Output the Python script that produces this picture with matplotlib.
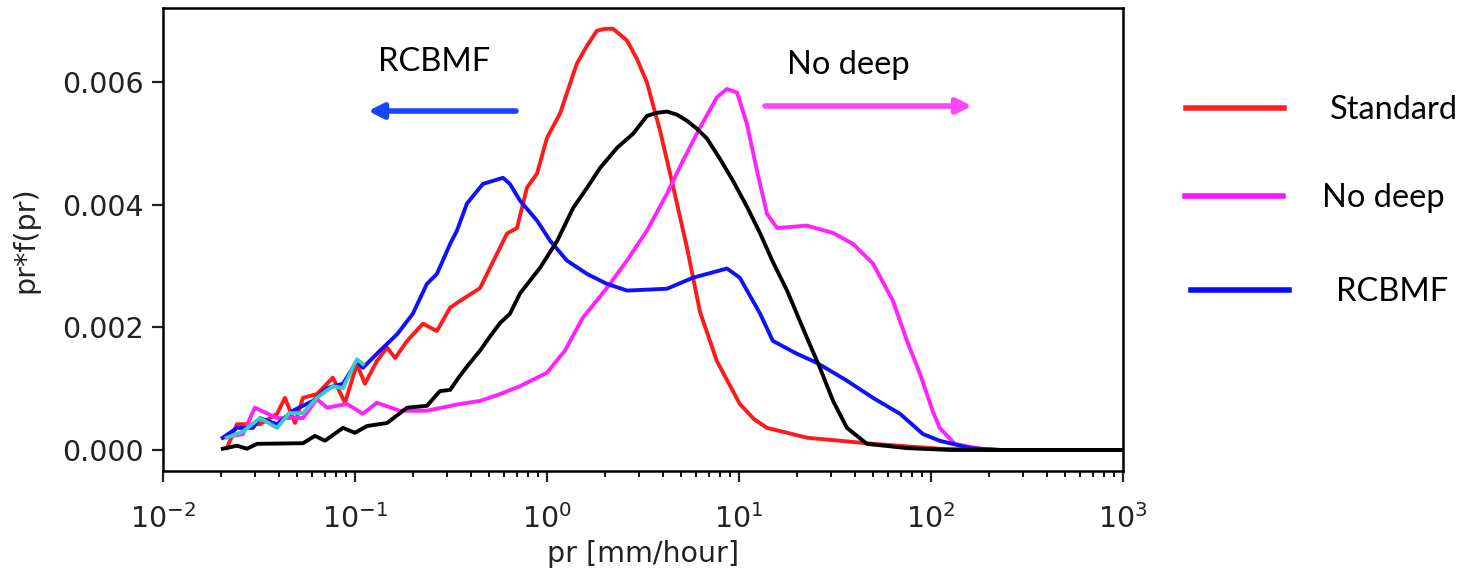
import numpy as np
import matplotlib.pyplot as plt

# data: pr [mm/hour] and pr*f(pr)
std_pr = [0.0215, 0.0243, 0.032, 0.0393, 0.0432, 0.0487, 0.0536, 0.0633, 0.0767, 0.0887,
          0.1024, 0.1127, 0.130, 0.147, 0.162, 0.187, 0.226, 0.267, 0.313, 0.352,
          0.448, 0.505, 0.619, 0.698, 0.787, 0.888, 1.0, 1.17, 1.43, 1.62, 1.82,
          2.0, 2.21, 2.61, 2.94, 3.32, 3.88, 4.53, 5.36, 6.27, 7.67, 10.1, 12.0, 14.0,
          17.8, 22.6, 49.9, 111, 229, 1000]
std_val = [0.00003, 0.00042, 0.00042, 0.00059, 0.00085, 0.00044, 0.00085, 0.00091, 0.00118, 0.00077,
           0.0014, 0.00108, 0.00145, 0.00167, 0.0015, 0.00178, 0.00206, 0.00194, 0.00232, 0.00243,
           0.00264, 0.00297, 0.00353, 0.00362, 0.00428, 0.00451, 0.00509, 0.00549, 0.0063, 0.0066, 0.00684,
           0.00687, 0.00687, 0.00668, 0.00638, 0.00599, 0.00521, 0.00431, 0.0033, 0.00225, 0.00145, 0.00075, 0.0005, 0.00036,
           0.00028, 0.0002, 0.0001, 0.00002, 0.0, 0.0]

nodeep_pr = [0.0205, 0.0261, 0.0301, 0.0393, 0.0536, 0.0633, 0.0715, 0.0908, 0.110, 0.130,
             0.171, 0.237, 0.352, 0.448, 0.569, 0.723, 1.0, 1.24, 1.54, 2.05,
             2.61, 3.32, 4.22, 5.11, 6.27, 7.67, 8.66, 9.77, 11.0, 12.4,
             14.0, 15.8, 22.6, 30.9, 39.3, 49.9, 63.4, 75, 87.7, 102,
             111, 133, 180, 229, 1000]
nodeep_val = [0.0002, 0.00026, 0.00069, 0.00052, 0.00052, 0.00083, 0.00069, 0.00075, 0.00059, 0.00077,
              0.00064, 0.00064, 0.00075, 0.0008, 0.00091, 0.00104, 0.00126, 0.00162, 0.00216, 0.00264,
              0.00309, 0.00358, 0.00418, 0.00472, 0.00526, 0.00575, 0.00589, 0.00583, 0.00532, 0.00456,
              0.00385, 0.00362, 0.00366, 0.00354, 0.00336, 0.00304, 0.00243, 0.00178, 0.00124, 0.00064,
              0.00036, 0.0001, 0.00002, 0.0, 0.0]

rcb_pr = [0.0205, 0.0243, 0.0294, 0.032, 0.0393, 0.0475, 0.0604, 0.0715, 0.0866, 0.1024,
          0.110, 0.135, 0.166, 0.2, 0.237, 0.267, 0.313, 0.34, 0.383, 0.464,
          0.59, 0.641, 0.723, 0.888, 1.04, 1.27, 1.62, 2.05, 2.61, 4.22,
          5.76, 8.66, 10.1, 12.9, 15.0, 20.0, 25.5, 36.5, 49.9, 69,
          90.8, 111, 160, 229, 1000]
rcb_val = [0.0002, 0.00036, 0.00036, 0.00052, 0.00042, 0.00064, 0.0008, 0.00101, 0.00108, 0.00145,
           0.00134, 0.00162, 0.00189, 0.00222, 0.00271, 0.00287, 0.00336, 0.00358, 0.00402, 0.00434,
           0.00444, 0.00434, 0.00407, 0.00374, 0.00341, 0.00309, 0.00287, 0.00271, 0.0026, 0.00263,
           0.00281, 0.00296, 0.00281, 0.00222, 0.00178, 0.00157, 0.00142, 0.00113, 0.00085, 0.00059,
           0.00026, 0.00015, 0.00003, 0.0, 0.0]

blk_pr = [0.0205, 0.0243, 0.0274, 0.0309, 0.0536, 0.0619, 0.0698, 0.0866, 0.1, 0.1155,
          0.147, 0.187, 0.237, 0.277, 0.313, 0.352, 0.397, 0.448, 0.505, 0.569, 0.641, 0.723, 0.815,
          0.92, 1.13, 1.37, 1.62, 1.89, 2.32, 2.81, 3.32, 3.74, 4.22, 4.75, 5.36, 6.04,
          6.81, 7.96, 9.31, 11.0, 12.9, 15.0, 17.8, 22.6, 26.4, 30.9, 36.5, 46.4, 75,
          126, 1000]
blk_val = [0.00002, 0.00007, 0.00002, 0.0001, 0.00011, 0.00023, 0.00015, 0.00036, 0.00028, 0.00039,
           0.00044, 0.00069, 0.00072, 0.00096, 0.00098, 0.00121, 0.00142, 0.00162, 0.00185, 0.00207, 0.00222, 0.00255, 0.00276,
           0.00297, 0.00341, 0.00395, 0.00428, 0.0046, 0.00493, 0.00516, 0.00545, 0.0055, 0.00552, 0.00547, 0.00537, 0.00524,
           0.00508, 0.00475, 0.00439, 0.00397, 0.00353, 0.00307, 0.0026, 0.00183, 0.00134, 0.0008, 0.00036, 0.0001, 0.00003,
           0.0, 0.0]

cyan_pr = [0.0215, 0.0261, 0.032, 0.0393, 0.0454, 0.0536, 0.0633, 0.0767, 0.0866, 0.1024, 0.110]
cyan_val = [0.0002, 0.0003, 0.00052, 0.00036, 0.0006, 0.0006, 0.00085, 0.00104, 0.00101, 0.00148, 0.0014]

fig = plt.figure(figsize=(14.72, 5.70), dpi=100)
ax = fig.add_axes([0.1107, 0.1737, 0.6522, 0.8123])

lw = 2.8
ax.plot(std_pr, std_val, color='#ff1a1a', lw=lw)
ax.plot(nodeep_pr, nodeep_val, color='#ff22ff', lw=lw)
ax.plot(rcb_pr, rcb_val, color='#1010ff', lw=lw)
ax.plot(cyan_pr, cyan_val, color='#40c8c8', lw=lw)
ax.plot(blk_pr, blk_val, color='k', lw=lw)

ax.set_xscale('log')
ax.set_xlim(1e-2, 1e3)
ax.set_ylim(-0.000343, 0.00721)
ax.set_yticks([0.0, 0.002, 0.004, 0.006])
ax.set_yticklabels(['0.000', '0.002', '0.004', '0.006'])

for s in ax.spines.values():
    s.set_linewidth(1.8)
ax.tick_params(which='major', length=8, width=1.6, labelsize=20.5, colors='#222222', pad=6)
ax.tick_params(axis='x', which='major', pad=16)
ax.tick_params(which='minor', length=4.5, width=1.3)
ax.set_xlabel('pr [mm/hour]', fontsize=20.5, color='#222222', labelpad=4)
ax.set_ylabel('pr*f(pr)', fontsize=20.5, color='#222222', labelpad=16)

# annotations with arrows
fnt = 'Lato'
fsz = 23.5
fig.text(378 / 1472, 1 - 62 / 570, 'RCBMF', fontsize=fsz, family=fnt, va='center', ha='left')
fig.text(787 / 1472, 1 - 65 / 570, 'No deep', fontsize=fsz, family=fnt, va='center', ha='left')
ax.annotate('', xy=(368 / 1472, 1 - 111 / 570), xytext=(516 / 1472, 1 - 111 / 570),
            xycoords='figure fraction', textcoords='figure fraction',
            arrowprops=dict(arrowstyle='-|>', color='#1545ff', lw=4, mutation_scale=22,
                            shrinkA=0, shrinkB=0))
ax.annotate('', xy=(972 / 1472, 1 - 106 / 570), xytext=(765 / 1472, 1 - 106 / 570),
            xycoords='figure fraction', textcoords='figure fraction',
            arrowprops=dict(arrowstyle='-|>', color='#ff44ff', lw=4, mutation_scale=22,
                            shrinkA=0, shrinkB=0))

# hand-made legend on the right
leg_names = ['Standard', 'No deep', 'RCBMF']
leg_colors = ['#ff2020', '#ff10ff', '#0a0aff']
leg_y = [108, 196, 290]
leg_x0 = [1186, 1185, 1191]
leg_tx = [1330, 1322, 1336]
for name, c, y, x0, tx in zip(leg_names, leg_colors, leg_y, leg_x0, leg_tx):
    fig.add_artist(plt.Line2D([x0 / 1472, (x0 + 98) / 1472], [1 - y / 570, 1 - y / 570],
                              color=c, lw=4))
    fig.text(tx / 1472, 1 - (y + 2) / 570, name, fontsize=fsz, family=fnt, va='center', ha='left')

fig.savefig('out.png', dpi=100)
